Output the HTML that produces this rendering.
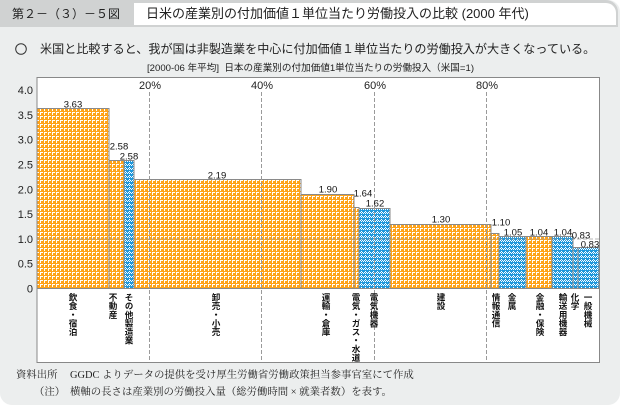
<!DOCTYPE html>
<html><head><meta charset="utf-8">
<style>
html,body{margin:0;padding:0;background:#fff;}
#wrap{position:relative;width:621px;height:409px;overflow:hidden;font-family:"Liberation Sans","Noto Sans CJK JP",sans-serif;color:#222;}
#panel{position:absolute;left:0;top:0;width:620px;height:405px;background:#eceeee;border-radius:0 12px 12px 12px;}
#hdr{position:absolute;left:0;top:0;width:618px;height:27px;background:#d0d2d2;border-radius:0 12px 0 0;}
#tabtxt{position:absolute;left:12px;top:6px;font-size:12px;line-height:16px;white-space:nowrap;color:#222;}
#titlebox{position:absolute;left:134px;top:3px;width:482px;height:22px;background:#fff;border-radius:0 10px 0 0;}
#titletxt{position:absolute;left:146px;top:6px;font-size:13px;line-height:16px;white-space:nowrap;color:#222;}
#lead{position:absolute;left:40px;top:41px;font-size:12.1px;line-height:16px;white-space:nowrap;}
#sub{position:absolute;left:147px;top:63px;font-size:9.6px;line-height:12px;white-space:nowrap;}
.cat{position:absolute;top:293px;writing-mode:vertical-rl;font-family:"Noto Sans CJK JP",sans-serif;font-weight:bold;font-size:8.6px;line-height:9px;width:9px;white-space:nowrap;color:#111;}
.fn{position:absolute;font-family:"Liberation Serif","Noto Serif CJK SC",serif;font-size:10.4px;line-height:13px;white-space:nowrap;color:#222;}
</style></head>
<body>
<div id="wrap">
<div id="panel"></div>
<div id="hdr"></div>
<div id="tabtxt">第２－（３）－５図</div>
<div id="titlebox"></div>
<div id="titletxt">日米の産業別の付加価値１単位当たり労働投入の比較 (2000 年代)</div>
<div id="lead">米国と比較すると、我が国は非製造業を中心に付加価値１単位当たりの労働投入が大きくなっている。</div>
<div id="sub">[2000-06 年平均]&nbsp; 日本の産業別の付加価値1単位当たりの労働投入（米国=1)</div>

<svg width="621" height="409" style="position:absolute;left:0;top:0" xmlns="http://www.w3.org/2000/svg">
<defs>
<pattern id="po" width="4" height="4" patternUnits="userSpaceOnUse">
<rect width="4" height="4" fill="#ffa31a"/>
<rect x="0" y="0" width="3" height="1" fill="#fff"/>
<rect x="0" y="1" width="1" height="2" fill="#fff"/>
</pattern>
<pattern id="pb" width="4" height="4" patternUnits="userSpaceOnUse">
<rect width="4" height="4" fill="#1f98dc"/>
<rect x="0" y="0" width="1" height="1" fill="#fff"/>
<rect x="1" y="1" width="1" height="1" fill="#fff"/>
<rect x="2" y="0" width="1" height="1" fill="#fff"/>
<rect x="3" y="1" width="1" height="1" fill="#fff"/>
<rect x="1" y="3" width="1" height="1" fill="#fff"/>
</pattern>
</defs>
<circle cx="21" cy="49" r="5.3" fill="none" stroke="#333" stroke-width="1"/>
<rect x="37" y="77.5" width="562.5" height="285" fill="#fff" stroke="#888" stroke-width="1"/>
<g shape-rendering="crispEdges" stroke="#8a8a8a" stroke-width="1">
<rect x="37" y="108.5" width="72" height="180" fill="url(#po)"/>
<rect x="109" y="160.5" width="15" height="128" fill="url(#po)"/>
<rect x="124" y="160.5" width="10" height="128" fill="url(#pb)"/>
<rect x="134" y="179.5" width="167" height="109" fill="url(#po)"/>
<rect x="301" y="194.5" width="53" height="94" fill="url(#po)"/>
<rect x="354" y="207.5" width="5" height="81" fill="url(#po)"/>
<rect x="359" y="208.5" width="31" height="80" fill="url(#pb)"/>
<rect x="390" y="224.5" width="101" height="64" fill="url(#po)"/>
<rect x="491" y="233.5" width="8" height="55" fill="url(#po)"/>
<rect x="499" y="236.5" width="27" height="52" fill="url(#pb)"/>
<rect x="526" y="236.5" width="26" height="52" fill="url(#po)"/>
<rect x="552" y="236.5" width="21" height="52" fill="url(#pb)"/>
<rect x="573" y="247.5" width="5" height="41" fill="url(#pb)"/>
<rect x="578" y="247.5" width="21" height="41" fill="url(#pb)"/>
</g>
<line x1="37" y1="239" x2="599" y2="239" stroke="#999" stroke-width="1" stroke-dasharray="4,2" opacity="0.7"/>
<g stroke="#9a9a9a" stroke-width="1" stroke-dasharray="4,2">
<line x1="149.5" y1="92" x2="149.5" y2="362"/>
<line x1="261.5" y1="92" x2="261.5" y2="362"/>
<line x1="374.5" y1="92" x2="374.5" y2="362"/>
<line x1="486.5" y1="92" x2="486.5" y2="362"/>
</g>
<g font-size="11" fill="#222" text-anchor="middle" font-family="Liberation Sans, sans-serif">
<text x="150" y="89">20%</text>
<text x="262" y="89">40%</text>
<text x="375" y="89">60%</text>
<text x="487" y="89">80%</text>
</g>
<g font-size="11" fill="#222" text-anchor="end" font-family="Liberation Sans, sans-serif">
<text x="33" y="292.5">0</text>
<text x="33" y="267.7">0.5</text>
<text x="33" y="242.9">1.0</text>
<text x="33" y="218.1">1.5</text>
<text x="33" y="193.3">2.0</text>
<text x="33" y="168.5">2.5</text>
<text x="33" y="143.7">3.0</text>
<text x="33" y="118.9">3.5</text>
<text x="33" y="94.1">4.0</text>
</g>
<g font-size="9.5" fill="#111" text-anchor="middle" font-family="Liberation Sans, sans-serif">
<text x="73" y="107.5">3.63</text>
<text x="119" y="149.5">2.58</text>
<text x="129" y="159.5">2.58</text>
<text x="217" y="178.5">2.19</text>
<text x="328" y="192.5">1.90</text>
<text x="363" y="196.5">1.64</text>
<text x="375" y="206.5">1.62</text>
<text x="441" y="222.5">1.30</text>
<text x="501" y="225.5">1.10</text>
<text x="513" y="235.5">1.05</text>
<text x="539" y="235.5">1.04</text>
<text x="563" y="235.5">1.04</text>
<text x="581" y="238.5">0.83</text>
<text x="590" y="247.5">0.83</text>
</g>
</svg>

<div class="cat" style="left:68px">飲食・宿泊</div>
<div class="cat" style="left:108px">不動産</div>
<div class="cat" style="left:124px">その他製造業</div>
<div class="cat" style="left:211px">卸売・小売</div>
<div class="cat" style="left:321px">運輸・倉庫</div>
<div class="cat" style="left:351px">電気・ガス・水道</div>
<div class="cat" style="left:369px">電気機器</div>
<div class="cat" style="left:436px">建設</div>
<div class="cat" style="left:491px">情報通信</div>
<div class="cat" style="left:507px">金属</div>
<div class="cat" style="left:535px">金融・保険</div>
<div class="cat" style="left:558px">輸送用機器</div>
<div class="cat" style="left:570px">化学</div>
<div class="cat" style="left:583px">一般機械</div>

<div class="fn" style="left:16px;top:369px">資料出所</div>
<div class="fn" style="left:70px;top:369px">GGDC よりデータの提供を受け厚生労働省労働政策担当参事官室にて作成</div>
<div class="fn" style="left:34px;top:386px">（注）</div>
<div class="fn" style="left:70px;top:386px">横軸の長さは産業別の労働投入量（総労働時間 × 就業者数）を表す。</div>
</div>
</body></html>
